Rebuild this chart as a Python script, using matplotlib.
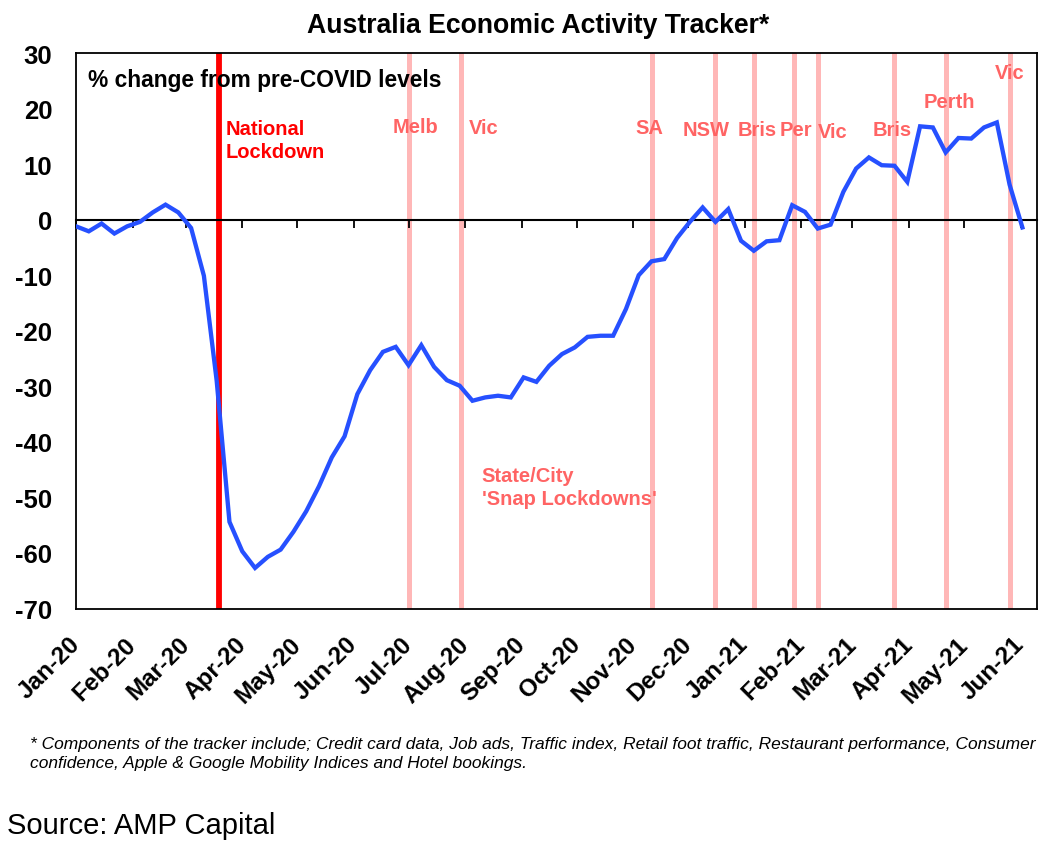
import matplotlib
matplotlib.use("Agg")
import numpy as np
import pandas as pd
import matplotlib.pyplot as plt
import matplotlib.dates as mdates
import matplotlib.ticker as mticker

# ---------------- data ----------------
start_date = "2020-01-01"
tracker_values = [
    -1.2, -2.1, -0.7, -2.5, -1.2, -0.4, 1.3, 2.7, 1.3, -1.5,
    -10.1, -29.0, -54.4, -59.7, -62.7, -60.7, -59.4, -56.2, -52.5, -48.0,
    -42.8, -39.0, -31.4, -27.1, -23.8, -22.9, -26.2, -22.6, -26.5, -28.9,
    -29.9, -32.6, -32.0, -31.7, -32.0, -28.4, -29.2, -26.3, -24.2, -23.0,
    -21.1, -20.9, -20.9, -16.1, -10.0, -7.5, -7.1, -3.3, -0.4, 2.2,
    -0.4, 1.9, -3.8, -5.6, -3.9, -3.7, 2.6, 1.4, -1.6, -0.9,
    5.0, 9.2, 11.2, 9.8, 9.7, 6.8, 16.8, 16.6, 12.1, 14.7,
    14.6, 16.6, 17.5, 6.3, -1.4,
]
national_lockdown_date = "2020-03-19"
snap_lockdown_dates = [
    "2020-07-01", "2020-07-30", "2020-11-11", "2020-12-16", "2021-01-06",
    "2021-01-28", "2021-02-10", "2021-03-24", "2021-04-21", "2021-05-26",
]
snap_labels = ["Melb", "Vic", "SA", "NSW", "Bris", "Per", "Vic", "Bris", "Perth", "Vic"]
snap_label_dates = [
    "2020-07-05", "2020-08-11", "2020-11-10", "2020-12-11", "2021-01-08",
    "2021-01-29", "2021-02-18", "2021-03-23", "2021-04-23", "2021-05-26",
]
snap_label_levels = [16.8, 16.5, 16.5, 16.2, 16.2, 16.2, 15.8, 16.2, 21.3, 26.5]
x_min, x_max = "2020-01-01", "2021-06-10"
y_ticks = [30, 20, 10, 0, -10, -20, -30, -40, -50, -60, -70]

title = "Australia Economic Activity Tracker*"
subtitle = "% change from pre-COVID levels"
footnote = ("* Components of the tracker include; Credit card data, Job ads, Traffic index, "
            "Retail foot traffic, Restaurant performance, Consumer\n"
            "confidence, Apple & Google Mobility Indices and Hotel bookings.")
source = "Source: AMP Capital"

# ---------------- styling ----------------
BLUE = "#2650FF"
RED = "#FF0000"
PINK_LINE = "#FFB7B7"
PINK_TEXT = "#FF6464"
FONT = ["Liberation Sans", "DejaVu Sans"]
plt.rcParams["font.family"] = FONT

dates = pd.date_range(start=start_date, periods=len(tracker_values), freq="7D")

fig = plt.figure(figsize=(10.55, 8.53), dpi=100)
ax = fig.add_axes([76 / 1055, 1 - 609.5 / 853, (1037 - 76) / 1055, (609.5 - 54) / 853])

# vertical lockdown lines
for d in snap_lockdown_dates:
    ax.axvline(pd.Timestamp(d), color=PINK_LINE, lw=3.6, zorder=1)
ax.axvline(pd.Timestamp(national_lockdown_date), color=RED, lw=4.2, zorder=1.5)

# main series
ax.plot(dates, tracker_values, color=BLUE, lw=3.1, zorder=3, solid_joinstyle="miter")

ax.set_xlim(pd.Timestamp(x_min), pd.Timestamp(x_max))
ax.set_ylim(-70, 30)
ax.set_yticks(y_ticks)
ax.yaxis.set_major_formatter(mticker.FuncFormatter(lambda v, p: f"{v:.0f}"))
ax.tick_params(axis="y", length=0, pad=17, labelsize=18.5)
for lab in ax.get_yticklabels():
    lab.set_fontweight("bold")

ax.xaxis.set_major_locator(mdates.MonthLocator())
ax.xaxis.set_major_formatter(mdates.DateFormatter("%b-%y"))
ax.tick_params(axis="x", length=0, pad=23, labelsize=17.5)
for lab in ax.get_xticklabels():
    lab.set_fontweight("bold")
    lab.set_rotation(45)
    lab.set_ha("right")
    lab.set_va("center")
    lab.set_rotation_mode("anchor")

for s in ax.spines.values():
    s.set_linewidth(1.3)
    s.set_color("black")

# zero line with month tick marks
sec = ax.secondary_xaxis(0.7)
sec.xaxis.set_major_locator(mdates.MonthLocator())
sec.xaxis.set_major_formatter(mticker.NullFormatter())
sec.tick_params(direction="in", length=6, width=1.3, color="black")
sec.spines["top"].set_linewidth(1.5)
sec.spines["top"].set_color("black")
sec.set_zorder(2)

# annotations
ax.text(0.013, 0.953, subtitle, transform=ax.transAxes, fontsize=16.4, fontweight="bold",
        ha="left", va="center", color="black", zorder=4)
ax.text(pd.Timestamp("2020-03-23"), 14.3, "National\nLockdown", color=RED, fontsize=14.5,
        fontweight="bold", ha="left", va="center", linespacing=1.25, zorder=4)
for lab, d, lvl in zip(snap_labels, snap_label_dates, snap_label_levels):
    ax.text(pd.Timestamp(d), lvl, lab, color=PINK_TEXT, fontsize=14.5, fontweight="bold",
            ha="center", va="center", zorder=4)
ax.text(pd.Timestamp("2020-08-10"), -48.1, "State/City\n'Snap Lockdowns'", color=PINK_TEXT,
        fontsize=14.5, fontweight="bold", ha="left", va="center", linespacing=1.25, zorder=4)

fig.text(538 / 1055, 1 - 26 / 853, title, fontsize=19.2, fontweight="bold", ha="center", va="center")
fig.text(30 / 1055, 1 - 754 / 853, footnote, fontsize=12.5, style="italic", ha="left", va="center",
         linespacing=1.3)
fig.text(7 / 1055, 1 - 826 / 853, source, fontsize=21, ha="left", va="center")

fig.savefig("out.png", dpi=100, facecolor="white")
